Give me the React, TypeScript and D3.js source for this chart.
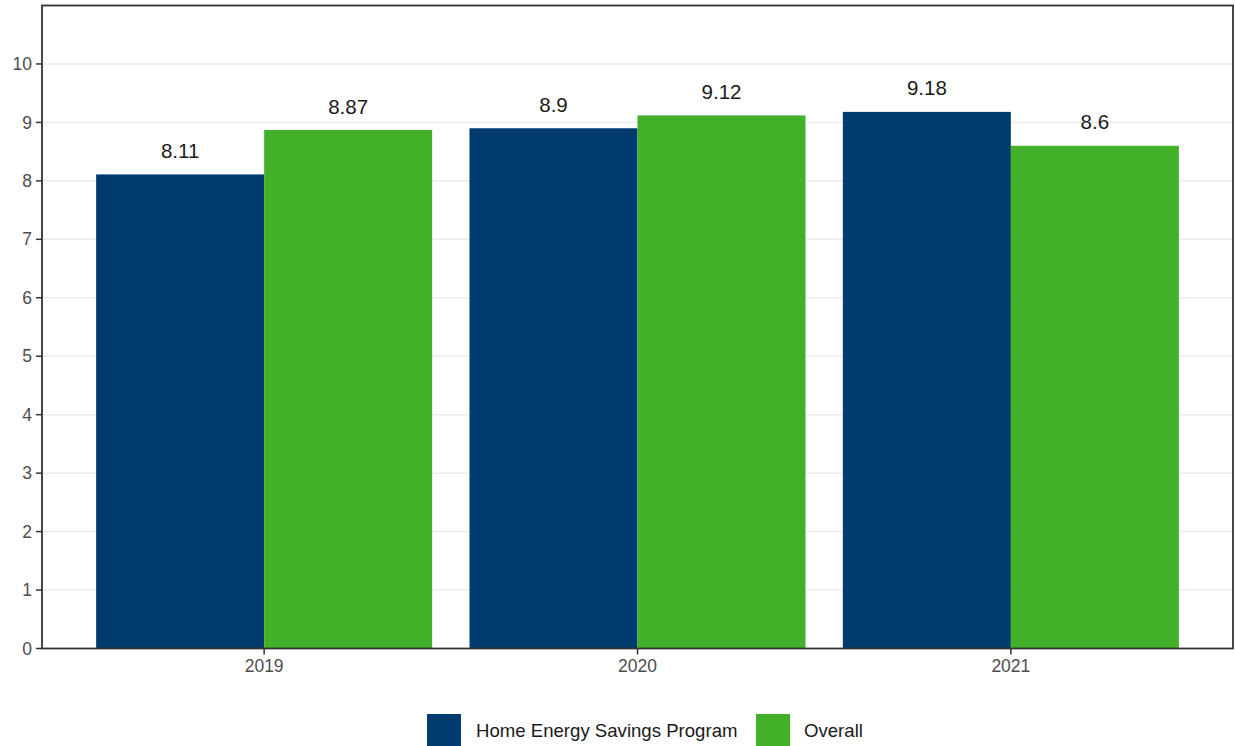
import React from "react";
import * as d3 from "d3";

const years = ["2019", "2020", "2021"];
const seriesNames = ["Home Energy Savings Program", "Overall"];
const hespValues = [8.11, 8.9, 9.18];
const overallValues = [8.87, 9.12, 8.6];
const yTicks = [0, 1, 2, 3, 4, 5, 6, 7, 8, 9, 10];
const colors = ["#003b6f", "#43b02a"];

const W = 1235;
const H = 746;
const plot = { left: 42, right: 1233, top: 5.5, bottom: 648.5 };

export default function App() {
  const x = d3
    .scaleBand<string>()
    .domain(years)
    .range([plot.left, plot.right])
    .paddingInner(0.1)
    .paddingOuter(0.145);
  const xs = d3
    .scaleBand<string>()
    .domain(seriesNames)
    .range([0, x.bandwidth()])
    .padding(0);
  const y = d3.scaleLinear().domain([0, 11]).range([plot.bottom, plot.top]);
  const seriesValues = [hespValues, overallValues];
  const fmt = (v: number) => String(v);
  const font = "Arial, 'Liberation Sans', sans-serif";

  return (
    <svg
      width={W}
      height={H}
      style={{ position: "absolute", left: 0, top: 0, background: "#fff" }}
      fontFamily={font}
    >
      {yTicks.map((t) =>
        t > 0 ? (
          <line
            key={"g" + t}
            x1={plot.left}
            x2={plot.right}
            y1={y(t)}
            y2={y(t)}
            stroke="#ebebeb"
            strokeWidth={1.5}
          />
        ) : null
      )}
      {years.map((yr, i) =>
        seriesNames.map((s, j) => {
          const v = seriesValues[j][i];
          const bx = (x(yr) as number) + (xs(s) as number);
          return (
            <g key={yr + s}>
              <rect
                x={bx}
                y={y(v)}
                width={xs.bandwidth()}
                height={y(0) - y(v)}
                fill={colors[j]}
              />
              <text
                x={bx + xs.bandwidth() / 2}
                y={y(v) - 16.5}
                textAnchor="middle"
                fontSize={20.5}
                fill="#1a1a1a"
              >
                {fmt(v)}
              </text>
            </g>
          );
        })
      )}
      <rect
        x={plot.left}
        y={plot.top}
        width={plot.right - plot.left}
        height={plot.bottom - plot.top}
        fill="none"
        stroke="#333"
        strokeWidth={1.8}
      />
      {yTicks.map((t) => (
        <g key={"y" + t}>
          <line x1={plot.left - 6} x2={plot.left} y1={y(t)} y2={y(t)} stroke="#333" strokeWidth={1.5} />
          <text
            x={plot.left - 10}
            y={y(t)}
            dy="0.35em"
            textAnchor="end"
            fontSize={17.5}
            fill="#4d4d4d"
          >
            {t}
          </text>
        </g>
      ))}
      {years.map((yr) => {
        const cx = (x(yr) as number) + x.bandwidth() / 2;
        return (
          <g key={"x" + yr}>
            <line x1={cx} x2={cx} y1={plot.bottom} y2={plot.bottom + 6} stroke="#333" strokeWidth={1.5} />
            <text x={cx} y={672} textAnchor="middle" fontSize={17.5} fill="#4d4d4d">
              {yr}
            </text>
          </g>
        );
      })}
      <g>
        <rect x={427} y={714} width={34} height={32} fill={colors[0]} />
        <text x={476} y={737} fontSize={18.6} fill="#1a1a1a">
          {seriesNames[0]}
        </text>
        <rect x={756} y={714} width={34} height={32} fill={colors[1]} />
        <text x={804} y={737} fontSize={18.6} fill="#1a1a1a">
          {seriesNames[1]}
        </text>
      </g>
    </svg>
  );
}
